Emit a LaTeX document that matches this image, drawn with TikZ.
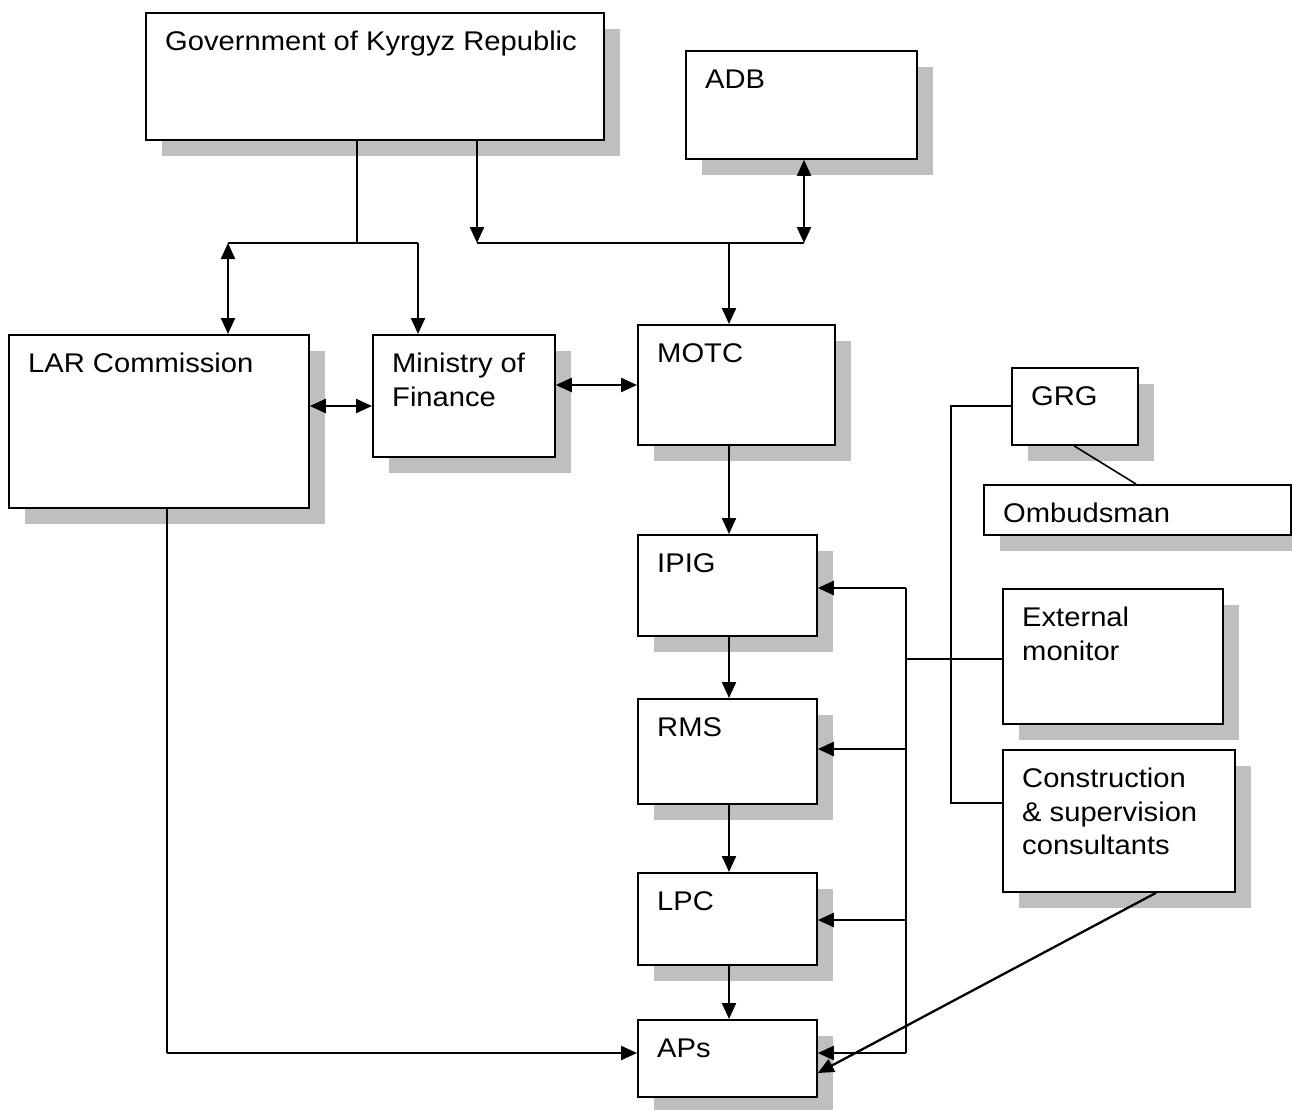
\documentclass[tikz,border=0pt]{standalone}
\usepackage{fontspec}
\setmainfont{Liberation Sans}[FakeStretch=1.08]
\usetikzlibrary{arrows.meta,shadows}
\definecolor{shadowgray}{RGB}{191,191,191}
\begin{document}
\begin{tikzpicture}[x=1pt,y=-1pt,
 box/.style={draw=black, line width=1.8pt, fill=white, rectangle, inner sep=0pt, anchor=north west,
   drop shadow={shadow xshift=16.5pt, shadow yshift=-16.5pt, fill=shadowgray, opacity=1}},
 lbl/.style={anchor=north west, inner sep=0pt, align=left, font=\fontsize{27pt}{33.3pt}\selectfont},
 plain/.style={line width=1.6pt},
 arr/.style={line width=2.3pt, -{Triangle[length=16pt,width=14pt]}},
 darr/.style={line width=2.3pt, {Triangle[length=16pt,width=14pt]}-{Triangle[length=16pt,width=14pt]}},
]
\useasboundingbox (0,0) rectangle (1292,1109);
\fill[white] (0,0) rectangle (1292,1109);

% boxes
\node[box, minimum width=458pt, minimum height=127pt] (gov) at (145,12) {};
\node[box, minimum width=231pt, minimum height=108pt] (adb) at (685,50) {};
\node[box, minimum width=300pt, minimum height=173pt] (lar) at (8,334) {};
\node[box, minimum width=182pt, minimum height=122pt] (mof) at (372,334) {};
\node[box, minimum width=197pt, minimum height=120pt] (motc) at (637,324) {};
\node[box, minimum width=126pt, minimum height=77pt] (grg) at (1011,367) {};
\node[box, minimum width=307pt, minimum height=50pt] (omb) at (983,484) {};
\node[box, minimum width=179pt, minimum height=101pt] (ipig) at (637,534) {};
\node[box, minimum width=220pt, minimum height=135pt] (ext) at (1002,588) {};
\node[box, minimum width=179pt, minimum height=105pt] (rms) at (637,698) {};
\node[box, minimum width=232pt, minimum height=142pt] (cons) at (1002,749) {};
\node[box, minimum width=179pt, minimum height=92pt] (lpc) at (637,872) {};
\node[box, minimum width=179pt, minimum height=77pt] (aps) at (637,1019) {};

% labels
\node[lbl] (govt) at (165,24.5) {\rule{0pt}{26pt}Government of Kyrgyz Republic};
\node[lbl] (adbt) at (705,62.5) {\rule{0pt}{26pt}ADB};
\node[lbl] (lart) at (28,346.5) {\rule{0pt}{26pt}LAR Commission};
\node[lbl] (moft) at (392,346.5) {\rule{0pt}{26pt}Ministry of\\Finance};
\node[lbl] (motct) at (657,336.5) {\rule{0pt}{26pt}MOTC};
\node[lbl] (grgt) at (1031,379.5) {\rule{0pt}{26pt}GRG};
\node[lbl] (ombt) at (1003,496.5) {\rule{0pt}{26pt}Ombudsman};
\node[lbl] (ipigt) at (657,546.5) {\rule{0pt}{26pt}IPIG};
\node[lbl] (extt) at (1022,600.5) {\rule{0pt}{26pt}External\\monitor};
\node[lbl] (rmst) at (657,710.5) {\rule{0pt}{26pt}RMS};
\node[lbl] (const) at (1022,761.5) {\rule{0pt}{26pt}Construction\\\& supervision\\consultants};
\node[lbl] (lpct) at (657,884.5) {\rule{0pt}{26pt}LPC};
\node[lbl] (apst) at (657,1031.5) {\rule{0pt}{26pt}APs};

% junction coordinates
\coordinate (j1) at (357,243);
\coordinate (jl) at (228,243);
\coordinate (jm) at (418,243);
\coordinate (j2) at (477,243);
\coordinate (j3) at (804,243);
\coordinate (j4) at (729,243);
\coordinate (y406) at (0,406);
\coordinate (y385) at (0,385);
\coordinate (c1) at (167,1053);
\coordinate (b1) at (906,588);
\coordinate (b2) at (906,749);
\coordinate (b3) at (906,920);
\coordinate (b4) at (906,1053);
\coordinate (be) at (906,659);
\coordinate (g1) at (951,406);
\coordinate (g2) at (951,803);
\coordinate (o1) at (1074,0);
\coordinate (o2) at (1136,0);
\coordinate (d1) at (1156,0);
\coordinate (d2) at (0,1073);

% connectors
\draw[plain] (gov.south -| j1) -- (j1);
\draw[plain] (jl) -- (jm);
\draw[arr] (jm) -- (jm |- mof.north);
\draw[darr] (jl) -- (jl |- lar.north);
\draw[arr] (gov.south -| j2) -- (j2);
\draw[plain] (j2) -- (j3);
\draw[darr] (j3) -- (j3 |- adb.south);
\draw[arr] (j4) -- (j4 |- motc.north);

\draw[darr] (lar.east |- y406) -- (mof.west |- y406);
\draw[darr] (mof.east |- y385) -- (motc.west |- y385);

\draw[arr] (motc.south -| j4) -- (ipig.north -| j4);
\draw[arr] (ipig.south -| j4) -- (rms.north -| j4);
\draw[arr] (rms.south -| j4) -- (lpc.north -| j4);
\draw[arr] (lpc.south -| j4) -- (aps.north -| j4);

\draw[plain] (lar.south -| c1) -- (c1);
\draw[arr] (c1) -- (aps.west |- c1);

\draw[line width=2.3pt] (b1) -- (b4);
\draw[arr] (b1) -- (ipig.east |- b1);
\draw[arr] (b2) -- (rms.east |- b2);
\draw[arr] (b3) -- (lpc.east |- b3);
\draw[arr] (b4) -- (aps.east |- b4);
\draw[plain] (be) -- (ext.west |- be);

\draw[plain] (grg.west |- g1) -- (g1) -- (g2) -- (cons.west |- g2);
\draw[plain] (grg.south -| o1) -- (omb.north -| o2);
\draw[arr] (cons.south -| d1) -- (aps.east |- d2);
\end{tikzpicture}
\end{document}
